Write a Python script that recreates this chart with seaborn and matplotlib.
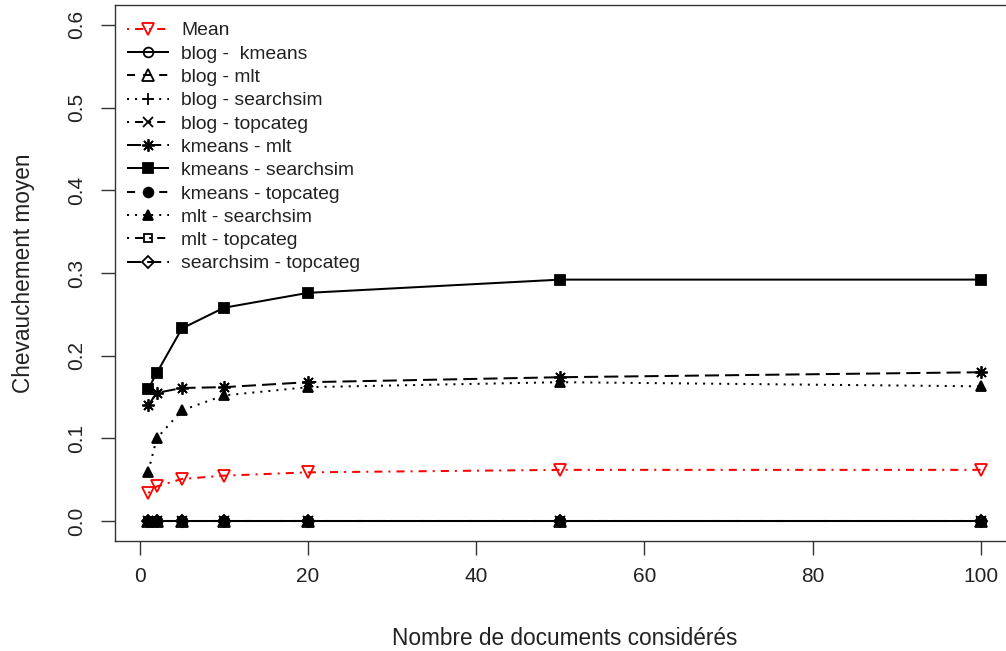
import matplotlib
matplotlib.use("Agg")
import matplotlib.pyplot as plt
import seaborn as sns
import numpy as np
import pandas as pd

# ---- data ----
x_docs = [1, 2, 5, 10, 20, 50, 100]
series_names = ["Mean", "blog -  kmeans", "blog - mlt", "blog - searchsim",
                "blog - topcateg", "kmeans - mlt", "kmeans - searchsim",
                "kmeans - topcateg", "mlt - searchsim", "mlt - topcateg",
                "searchsim - topcateg"]
mean_vals = [0.034, 0.042, 0.051, 0.055, 0.059, 0.062, 0.062]
blog_kmeans = [0, 0, 0, 0, 0, 0, 0]
blog_mlt = [0, 0, 0, 0, 0, 0, 0]
blog_searchsim = [0, 0, 0, 0, 0, 0, 0]
blog_topcateg = [0, 0, 0, 0, 0, 0, 0]
kmeans_mlt = [0.140, 0.155, 0.161, 0.162, 0.168, 0.174, 0.180]
kmeans_searchsim = [0.160, 0.179, 0.233, 0.258, 0.276, 0.292, 0.292]
kmeans_topcateg = [0, 0, 0, 0, 0, 0, 0]
mlt_searchsim = [0.060, 0.100, 0.134, 0.152, 0.162, 0.168, 0.163]
mlt_topcateg = [0, 0, 0, 0, 0, 0, 0]
searchsim_topcateg = [0, 0, 0, 0, 0, 0, 0]
all_vals = [mean_vals, blog_kmeans, blog_mlt, blog_searchsim, blog_topcateg,
            kmeans_mlt, kmeans_searchsim, kmeans_topcateg, mlt_searchsim,
            mlt_topcateg, searchsim_topcateg]

x_ticks = [0, 20, 40, 60, 80, 100]
y_ticks = [0.0, 0.1, 0.2, 0.3, 0.4, 0.5, 0.6]

# ---- styles ----
SOLID = (0, ())
DASHED = (0, (4, 4))
DOTTED = (0, (1, 3))
DOTDASH = (0, (1, 3, 4, 3))
LONGDASH = (0, (7, 3))
styles = [
    dict(color="red", ls=DOTDASH, marker="v", mfc="none", ms=8),
    dict(color="black", ls=SOLID, marker="o", mfc="none", ms=7),
    dict(color="black", ls=DASHED, marker="^", mfc="none", ms=8),
    dict(color="black", ls=DOTTED, marker="+", mfc="black", ms=9),
    dict(color="black", ls=DOTDASH, marker="x", mfc="black", ms=7),
    dict(color="black", ls=LONGDASH, marker=(8, 2, 0), mfc="black", ms=9),
    dict(color="black", ls=SOLID, marker="s", mfc="black", ms=6.5),
    dict(color="black", ls=DASHED, marker="o", mfc="black", ms=7),
    dict(color="black", ls=DOTTED, marker="^", mfc="black", ms=7.5),
    dict(color="black", ls=DOTDASH, marker="s", mfc="none", ms=6),
    dict(color="black", ls=LONGDASH, marker="D", mfc="none", ms=6.5),
]

sns.set_theme(style="white")
plt.rcParams['font.family'] = ['Liberation Sans', 'DejaVu Sans']

fig = plt.figure(figsize=(10.06, 6.51), dpi=100)
W, H = 1006, 651
left, right, top, bottom = 115, 1014, 5, 541
ax = fig.add_axes([left / W, 1 - bottom / H, (right - left) / W, (bottom - top) / H])

lw = 1.45
handles = []
for name, vals, st in zip(series_names, all_vals, styles):
    df = pd.DataFrame({"x": x_docs, "y": vals})
    sns.lineplot(data=df, x="x", y="y", ax=ax, color=st["color"],
                 linestyle=st["ls"], marker=st["marker"],
                 markerfacecolor=st["mfc"], markeredgecolor=st["color"],
                 markeredgewidth=1.3, markersize=st["ms"], linewidth=lw,
                 label=name, legend=False)
    handles.append(ax.lines[-1])

ax.set_xlim(1 - 0.04 * 99, 100 + 0.04 * 99)
ax.set_ylim(-0.024, 0.624)
ax.set_xticks(x_ticks)
ax.set_yticks(y_ticks)
ax.set_xticklabels([str(v) for v in x_ticks])
ax.set_yticklabels([f"{v:.1f}" for v in y_ticks], rotation=90, va="center")
ax.tick_params(axis="both", direction="out", length=10, width=1.0,
               color="#333333", labelsize=15, labelcolor="#222222",
               left=True, bottom=True, pad=9)
ax.tick_params(axis="y", pad=10.5)
for sp in ax.spines.values():
    sp.set_color("#333333")
    sp.set_linewidth(1.0)
    sp.set_visible(True)

ax.set_xlabel("Nombre de documents considérés", fontsize=16.3, color="#222222", labelpad=29.5)
ax.set_ylabel("Chevauchement moyen", fontsize=16.3, color="#222222", labelpad=23.5)
ax.grid(False)

leg = ax.legend(handles=handles, labels=series_names, loc="upper left",
                bbox_to_anchor=(0.0133, 0.9685), frameon=False, fontsize=13.9,
                handlelength=2.2, handletextpad=0.6, labelspacing=0.3,
                borderpad=0, borderaxespad=0)
for t in leg.get_texts():
    t.set_color("#222222")

fig.savefig("out.png", dpi=100)
